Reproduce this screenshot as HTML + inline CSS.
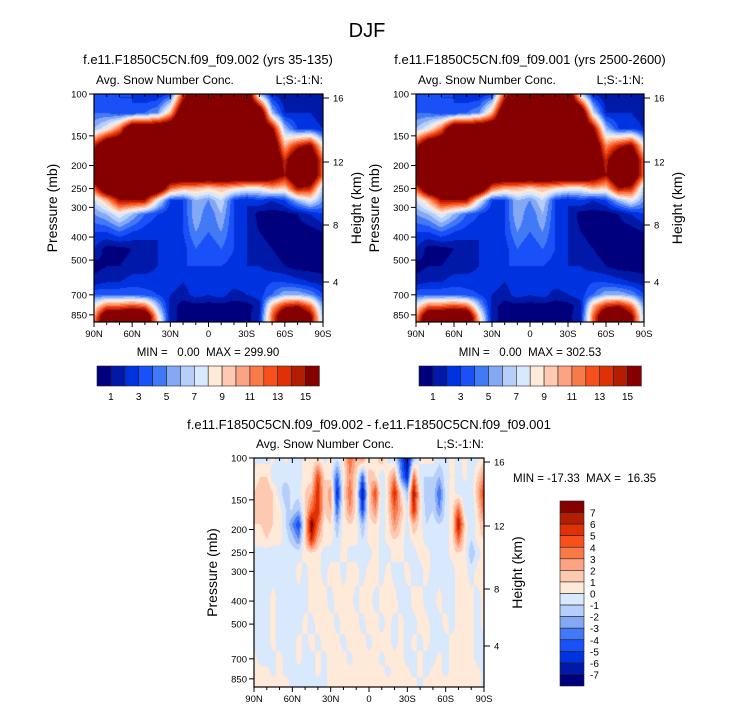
<!DOCTYPE html>
<html><head><meta charset="utf-8">
<style>
body{margin:0;background:#fff;}
#root{position:relative;width:733px;height:712px;overflow:hidden;background:#fff;font-family:"Liberation Sans",sans-serif;}
canvas{position:absolute;}
svg{position:absolute;left:0;top:0;}
svg text{white-space:pre;}
</style></head>
<body>
<div id="root">
<canvas id="c1" width="229" height="228" style="left:94px;top:94px"></canvas>
<canvas id="c2" width="228" height="228" style="left:416px;top:94px"></canvas>
<canvas id="c3" width="230" height="229" style="left:254px;top:458px"></canvas>
<svg id="ov" width="733" height="712" xml:space="preserve"></svg>
</div>
<script>
// ---------- data ----------
const topPressures=[100,120,140,165,190,220,250,280,320,380,450,530,620,700,780,860,925];
const latLabels=["90N","60N","30N","0","30S","60S","90S"];
const pressureTicks=[100,150,200,250,300,400,500,700,850];
const heightTicks=[16,12,8,4];
const topLevels=[1,3,5,7,9,11,13,15];
const diffLevels=[7,6,5,4,3,2,1,0,-1,-2,-3,-4,-5,-6,-7];
const fieldA=[
[4,3,3,3,2,2,3,13,20,20,20,20,20,6,2,1,2,1,1],
[4,4,3,3,4,5,10,20,20,20,20,20,20,20,6,2,2,2,1],
[6,8,12,20,20,20,20,20,20,20,20,20,20,20,16,6,3,3,2],
[14,20,20,20,20,20,20,20,20,20,20,20,20,20,20,10,14,16,8],
[18,20,20,20,20,20,20,20,20,20,20,20,20,20,20,14,20,20,12],
[20,20,20,20,20,20,20,20,20,20,20,20,20,20,18,15,20,20,12],
[12,20,20,20,20,20,12,10,10,9,10,9,8,8,10,9,15,14,6],
[7,10,15,15,15,8,3,3,6,5,7,3,2,3,2,3,6,8,5],
[5,6,8,6,4,3,2,3,6,4,6,3,2,0.5,0.5,0.5,1,2,3],
[3,3,4,3,2.5,2,2,3,5,4,5,3,2,1,0.5,0.5,0.5,0.5,1],
[2,0.5,0.5,1,1.5,2,2.5,2.5,4,3,4,3,2,1.5,1,0.5,0.5,0.5,0.5],
[0.5,1,1,1.5,1.5,2,2.5,3,3,3,3,2.5,2,2,1.5,1,0.5,0.5,0.5],
[1.5,2,2,2.5,2.5,2.5,2.5,2,2.5,2.5,2.5,2.5,2.5,2.5,3,3,2.5,2,1.5],
[4,4,4,4,3.5,3,2,1.5,2.5,2,2.5,1.5,2,2.5,4,6,6,5,3],
[8,12,12,13,12,6,1.5,0.5,0.5,0.5,0.5,0.5,0.5,1.5,10,14,15,12,5],
[10,20,20,20,20,9,1.5,0.5,0.5,0.5,0.5,0.5,0.5,2,12,20,20,16,6],
[12,20,20,20,20,10,1.5,0.5,0.5,0.5,0.5,0.5,0.5,2,12,20,20,16,6]];
const fieldB=[
[4,3,3,3,2,2,3,13,20,20,20,20,20,7,2,1,2,1,1],
[4,4,3,3,4,5,10,20,20,20,20,20,20,20,7,2,2,2,1],
[6,8,12,20,20,20,20,20,20,20,20,20,20,20,16,6,3,3,2],
[14,20,20,20,20,20,20,20,20,20,20,20,20,20,20,11,14,16,8],
[18,20,20,20,20,20,20,20,20,20,20,20,20,20,20,14,20,20,12],
[20,20,20,20,20,20,20,20,20,20,20,20,20,20,18,15,20,20,12],
[12,20,20,20,20,20,12,10,10,9,10,9,8,8,10,9,15,14,6],
[7,10,15,15,15,8,3,3,6,5,7,3,2,3,2,3,6,8,5],
[5,6,8,6,4,3,2,3,6,4,6,3,2,0.5,0.5,0.5,1,2,3],
[3,3,4,3,2.5,2,2,3,5,4,5,3,2,1,0.5,0.5,0.5,0.5,1],
[2,0.5,0.5,1,1.5,2,2.5,2.5,4,3,4,3,2,1.5,1,0.5,0.5,0.5,0.5],
[0.5,1,1,1.5,1.5,2,2.5,3,3,3,3,2.5,2,2,1.5,1,0.5,0.5,0.5],
[1.5,2,2,2.5,2.5,2.5,2.5,2,2.5,2.5,2.5,2.5,2.5,2.5,3,3,2.5,2,1.5],
[4,4,4,4,3.5,3,2,1.5,2.5,2,2.5,1.5,2,2.5,4,6,6,5,3],
[8,12,12,13,12,6,1.5,0.5,0.5,0.5,0.5,0.5,0.5,1.5,10,14,15,12,5],
[10,20,20,20,20,9,1.5,0.5,0.5,0.5,0.5,0.5,0.5,2,12,20,20,16,6],
[12,20,20,20,20,10,1.5,0.5,0.5,0.5,0.5,0.5,0.5,2,12,20,20,16,6]];
const diffPressures=[100,120,140,165,190,220,250,300,400,500,600,700,800,870,925];
const fieldDiff=[
[-0.5,-0.3,-0.5,0.3,-0.5,0.3,-0.5,-0.5,0.3,0.3,0.5,-0.5,0.3,-0.5,0.5,4,2,3,-0.5,0.5,2,-0.5,-1,-4,-7,-2,0.5,0.5,0.5,-0.5,-0.5,0.5,-0.5,0.3,-0.5,-0.3,0.5],
[0.5,1,1,-0.5,-1,-0.5,-0.5,-0.5,0.5,0.5,5,1,0.5,-4,0.5,3,1,-4,2,1,-1,1,3,-3,-6,4,-1,-1,-1,-2,-0.5,0.3,-0.5,0.3,-0.5,1,3],
[1,1.5,2,1,-0.5,-2,-0.5,-0.5,1,2,6,1,3,-6,0.5,4,0.5,-7,1,5,-1,1,6,1,-2,7,0.5,-2,-1,-4,-0.5,0.5,-0.5,-0.5,-1,2,5],
[1,1.5,2,1,0.5,-1,-1,-2,1,4,6,1,2,-4,0.5,3,0.5,-5,1,3,-1,1,4,2,-0.5,6,0.5,-1.5,-1,-3,-0.5,0.5,4,-0.5,-1,1,4],
[1,1,1.5,1,0.5,-1,-3,-5,1,8,4,0.5,1,-2,0.5,1,0.5,-2,0.5,1,-0.5,0.5,3,1,-0.5,2,0.5,-1,-0.5,-1,-0.5,0.5,7,1,-1,0.5,2],
[0.5,0.5,1,0.5,0.5,-0.5,-1.5,-3,1,6,2,0.5,0.5,-1,0.5,0.5,0.5,-1,0.5,0.5,-0.5,0.5,1,0.5,-0.5,0.5,0.5,-0.5,-0.5,-0.5,-0.5,0.5,4,0.5,-1,0.5,1],
[-0.5,-0.5,-0.5,-0.5,-0.5,-0.5,-0.5,-0.5,0.5,1,0.5,-0.5,-0.5,-0.5,0.5,-0.5,-0.5,-0.5,-0.5,0.5,-0.5,-0.5,0.5,0.5,-0.5,-0.5,0.5,0.5,-0.5,-0.5,-0.5,0.5,1,0.5,-2,-0.5,0.5],
[-0.5,-0.5,-0.5,-0.5,-0.5,-0.5,-0.5,0.5,-0.5,0.5,0.5,-0.5,0.5,0.5,-0.5,0.5,0.5,-0.5,0.5,0.5,-0.5,0.5,-0.5,-0.5,0.5,-0.5,-0.5,0.5,-0.5,-0.5,-0.5,-0.5,0.5,0.5,-0.5,0.5,0.5],
[-0.5,-0.5,-0.5,0.5,-0.5,-0.5,-0.5,-0.5,-0.5,0.5,0.5,0.5,-0.5,0.5,0.5,0.5,-0.5,0.5,0.5,-0.5,0.5,0.5,0.5,-0.5,-0.5,0.5,0.5,-0.5,-0.5,0.5,-0.5,-0.5,0.5,0.5,0.5,-0.5,0.5],
[-0.5,-0.5,-0.5,0.5,-0.5,-0.5,-0.5,-0.5,0.5,-0.5,0.5,0.5,0.5,-0.5,0.5,0.5,0.5,-0.5,0.5,0.5,-0.5,0.5,-0.5,0.5,-0.5,-0.5,0.5,0.5,-0.5,-0.5,0.5,-0.5,0.5,0.5,0.5,-0.5,0.5],
[-0.5,-0.5,-0.5,0.5,-0.5,-0.5,-0.5,0.5,-0.5,0.5,-0.5,0.5,0.5,0.5,-0.5,0.5,0.5,0.5,-0.5,0.5,0.5,0.5,-0.5,0.5,-0.5,0.5,-0.5,0.5,-0.5,-0.5,-0.5,0.5,0.5,0.5,0.5,-0.5,-0.5],
[0.5,-0.5,-0.5,-0.5,0.5,-0.5,-0.5,0.5,-0.5,-0.5,0.5,-0.5,0.5,0.5,0.5,-0.5,0.5,0.5,0.5,0.5,-0.5,0.5,0.5,0.5,-0.5,-0.5,0.5,-0.5,-0.5,0.5,-0.5,0.5,0.5,0.5,0.5,-0.5,-0.5],
[0.5,0.5,0.5,-0.5,0.5,-0.5,-0.5,-0.5,-0.5,-0.5,0.5,-0.5,0.5,0.5,0.5,0.5,0.5,0.5,0.5,0.5,0.5,-0.5,0.5,0.5,0.5,-0.5,0.5,-0.5,0.5,0.5,-0.5,0.5,0.5,0.5,0.5,0.5,-0.5],
[0.5,0.5,0.5,0.5,0.5,0.5,-0.5,-0.5,-0.5,-0.5,-0.5,-0.5,0.5,0.5,0.5,0.5,0.5,0.5,0.5,0.5,0.5,0.5,0.5,0.5,0.5,0.5,-0.5,0.5,0.5,0.5,0.5,0.5,0.5,0.5,0.5,0.5,-0.5],
[0.5,0.5,0.5,0.5,0.5,0.5,-0.5,-0.5,-0.5,-0.5,-0.5,-0.5,0.5,0.5,0.5,0.5,0.5,0.5,0.5,0.5,0.5,0.5,0.5,0.5,0.5,0.5,-0.5,0.5,0.5,0.5,0.5,0.5,0.5,0.5,0.5,0.5,-0.5]];

const palette=["#00007f","#0019a8","#0033e0","#1a50f7","#4279f6","#85a8f5","#b6cefa","#d8e8fd","#ffe9d8","#fdc9b0","#fba383","#f87a48","#f8501c","#df3006","#b31d02","#870000"];
const PK=103.2; // px per ln(p)

function hex2rgb(h){return [parseInt(h.substr(1,2),16),parseInt(h.substr(3,2),16),parseInt(h.substr(5,2),16)];}
const pal=palette.map(hex2rgb);

function drawField(id,grid,pres,toIndex){
  const cv=document.getElementById(id),ctx=cv.getContext('2d');
  const w=cv.width,h=cv.height,img=ctx.createImageData(w,h);
  const ncol=grid[0].length,lnp=pres.map(p=>Math.log(p));
  for(let y=0;y<h;y++){
    const lp=Math.log(100)+(y+0.5)/PK;
    let r=0;while(r<lnp.length-2&&lp>lnp[r+1])r++;
    let fy=(lp-lnp[r])/(lnp[r+1]-lnp[r]);fy=Math.max(0,Math.min(1,fy));
    for(let x=0;x<w;x++){
      const fx=(x+0.5)/w*(ncol-1);let c=Math.min(ncol-2,Math.floor(fx));const tx=fx-c;
      const v=(grid[r][c]*(1-tx)+grid[r][c+1]*tx)*(1-fy)+(grid[r+1][c]*(1-tx)+grid[r+1][c+1]*tx)*fy;
      const col=pal[toIndex(v)],k=(y*w+x)*4;
      img.data[k]=col[0];img.data[k+1]=col[1];img.data[k+2]=col[2];img.data[k+3]=255;
    }
  }
  ctx.putImageData(img,0,0);
}
drawField('c1',fieldA,topPressures,v=>Math.max(0,Math.min(15,Math.floor(v))));
drawField('c2',fieldB,topPressures,v=>Math.max(0,Math.min(15,Math.floor(v))));
drawField('c3',fieldDiff,diffPressures,v=>Math.max(0,Math.min(15,Math.floor(v)+8)));

// ---------- overlay ----------
const NS="http://www.w3.org/2000/svg",ov=document.getElementById('ov');
function el(tag,attrs,txt){const e=document.createElementNS(NS,tag);for(const k in attrs)e.setAttribute(k,attrs[k]);if(txt!==undefined)e.textContent=txt;ov.appendChild(e);return e;}
function text(x,y,s,size,anchor,name,rot){
  const t=el('text',{x:x,y:y,'font-size':size,'text-anchor':anchor||'start',fill:'#000','font-family':'Liberation Sans, sans-serif'},s);
  if(rot)t.setAttribute('transform','rotate(-90 '+x+' '+y+')');
  
  
  return t;
}
const heightOffsets=[4,68,131,188];
function panel(x0,y0,w,h,pfx){
  const fr=el('rect',{x:x0,y:y0,width:w,height:h,fill:'none',stroke:'#000','stroke-width':1.2});
  
  
  pressureTicks.forEach(p=>{
    const y=y0+PK*Math.log(p/100);
    el('line',{x1:x0-5,x2:x0,y1:y,y2:y,stroke:'#000'});
    text(x0-7,y+3.5,String(p),9.5,'end',pfx+'-pressure-tick-'+p);
  });
  heightTicks.forEach((z,i)=>{
    const y=y0+heightOffsets[i];
    el('line',{x1:x0+w,x2:x0+w+6,y1:y,y2:y,stroke:'#000'});
    text(x0+w+10,y+3.5,String(z),9.5,'start',pfx+'-height-tick-'+z);
  });
  for(let i=0;i<=18;i++){
    const x=x0+i*w/18;
    el('line',{x1:x,x2:x,y1:y0,y2:y0+(i%3==0?5:3),stroke:'#000'});
    el('line',{x1:x,x2:x,y1:y0+h,y2:y0+h+(i%3==0?5:3),stroke:'#000'});
  }
  latLabels.forEach((l,i)=>text(x0+i*w/6,y0+h+15,l,9.5,'middle',pfx+'-lat-label-'+l));
  text(x0+2,y0-10,'Avg. Snow Number Conc.',12,'start',pfx+'-variable-label');
  text(x0+w,y0-10,'L;S:-1:N:',12,'end',pfx+'-level-label');
  text(x0-37,y0+h/2,'Pressure (mb)',14,'middle',pfx+'-y-axis-title',true);
  text(x0+w+38,y0+h/2,'Height (km)',14,'middle',pfx+'-right-axis-title',true);
}
text(367,37,'DJF',20,'middle','figure-title');
text(208,64,'f.e11.F1850C5CN.f09_f09.002 (yrs 35-135)',13,'middle','left-panel-title');
text(530,64,'f.e11.F1850C5CN.f09_f09.001 (yrs 2500-2600)',13,'middle','right-panel-title');
text(369,429,'f.e11.F1850C5CN.f09_f09.002 - f.e11.F1850C5CN.f09_f09.001',13,'middle','difference-panel-title');
panel(94,94,229,228,'left');
panel(416,94,228,228,'right');
panel(254,458,230,229,'diff');
text(208,356,'MIN =   0.00  MAX = 299.90',11.5,'middle','left-min-max');
text(530,356,'MIN =   0.00  MAX = 302.53',11.5,'middle','right-min-max');
text(513,482,'MIN = -17.33  MAX =  16.35',11.5,'start','diff-min-max');

function hbar(x0,pfx){
  const y0=366,bw=13.9;
  palette.forEach((c,i)=>{
    const r=el('rect',{x:x0+i*bw,y:y0,width:bw,height:20,fill:c,stroke:'#222','stroke-width':0.6});
    
    
  });
  topLevels.forEach(l=>text(x0+l*bw,y0+34,String(l),10,'middle',pfx+'-colorbar-label-'+l));
}
hbar(97,'left');hbar(419,'right');
const vx=560,vy=501,vh=185/16;
palette.slice().reverse().forEach((c,i)=>{
  const r=el('rect',{x:vx,y:vy+i*vh,width:24,height:vh,fill:c,stroke:'#222','stroke-width':0.6});
  
  
});
diffLevels.forEach((l,i)=>text(vx+30,vy+(i+1)*vh+4,String(l),10,'start','diff-colorbar-label-'+l));
</script>
</body></html>
